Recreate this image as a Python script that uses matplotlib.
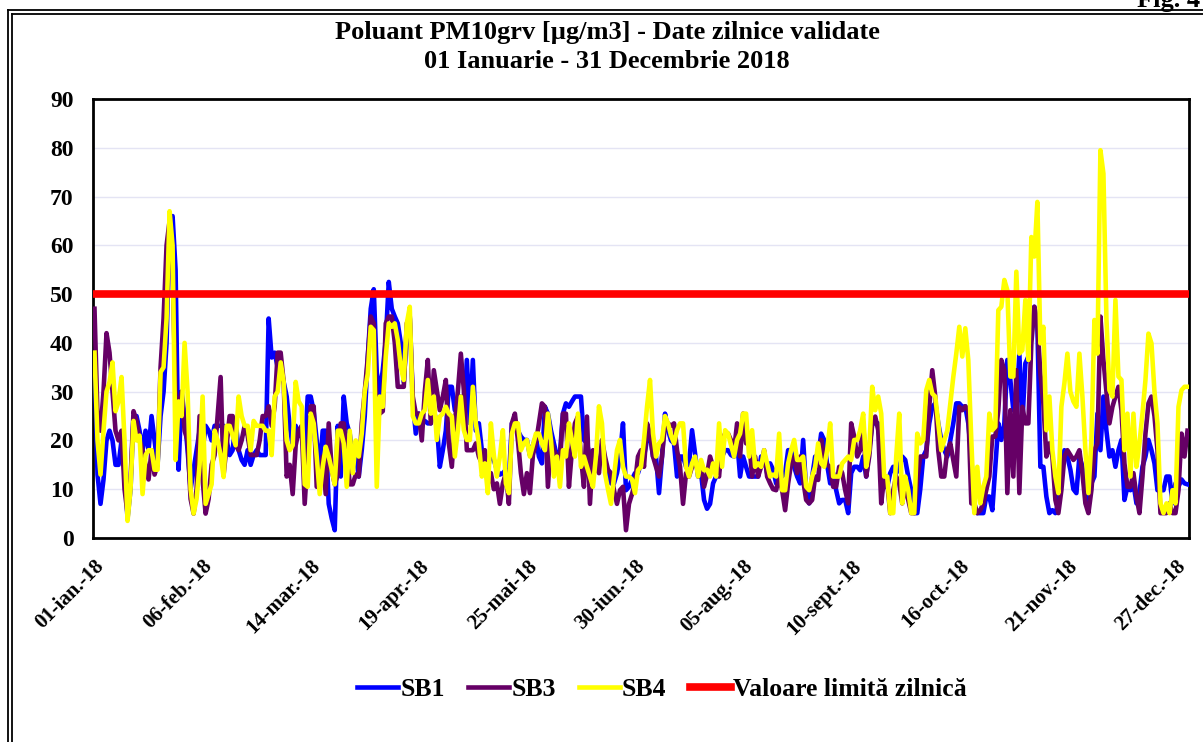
import numpy as np
import matplotlib
matplotlib.use("Agg")
import matplotlib.pyplot as plt
from matplotlib.lines import Line2D

plt.rcParams['font.family'] = ['Liberation Serif', 'DejaVu Serif']
plt.rcParams['font.weight'] = 'bold'

title_lines = ["Poluant PM10grv [µg/m3] - Date zilnice validate",
               "01 Ianuarie - 31 Decembrie 2018"]
tick_labels = ["01-ian.-18", "06-feb.-18", "14-mar.-18", "19-apr.-18", "25-mai-18",
               "30-iun.-18", "05-aug.-18", "10-sept.-18", "16-oct.-18", "21-nov.-18",
               "27-dec.-18"]
tick_days = [0, 36, 72, 108, 144, 180, 216, 252, 288, 324, 360]
limit_value = 50
series_names = ["SB1", "SB3", "SB4"]
limit_name = "Valoare limită zilnică"

sb1 = [38,13,7,12,20,22,20,15,15,20,14,4,10,25,25,22,18,22,18,25,20,15,25,30,40,65,66,55,14,30,25,18,10,14,18,22,
       18,23,22,20,23,23,23,23,20,17,18,24,18,16,15,18,15,17,18,17,17,17,45,37,38,35,35,32,29,23,19,23,21,21,17,29,
       29,26,20,14,22,22,7,4,1.6,23,12.6,29,23.5,21.4,16.7,17,12.6,18,25,37,47,51,34,29.6,34.4,40.6,52.5,47,45.4,44,40,32,42,45,28,21.4,
       25.5,23.5,24,23.5,23.5,26.2,23.5,14.6,18,22,31,31,26.2,27,29,23.5,36.5,23.5,36.5,22,23.5,18,16.7,14,18,16,14,13,13.3,14,12,23.5,23,22,20.8,20.1,
       20.1,17,19,20.8,16.7,15.3,26.9,25.5,22.1,19.4,16.7,17.3,25.5,27.6,26.9,28,29,29,29,20.1,19.4,16.7,16.7,16.7,15,18,16,13,11.2,11.2,13.3,16.7,23.5,9.8,10.5,12,13.3,
       13.3,15.3,16.7,20.1,21.4,16.7,16.7,9.2,16.7,25.5,22.1,20,19.4,12.6,16.7,16.7,14.6,15.3,22.1,17.3,12.6,13.3,7.8,6,7,11.2,12.6,13.9,16.7,18,18,17,16.7,20.1,12.6,16.7,14.6,
       12.6,12.6,12.6,12.6,16.7,16.7,13.3,15.3,14,11.2,13.3,12.6,13.3,18,18,14.6,12.6,11.2,20.1,9.8,7.1,12.6,16.7,16.7,21.4,20.1,15,11.2,13.3,9.8,7.1,7.8,7.8,5.1,13.3,14.6,
       14.6,13.9,16.7,12.6,18,23.5,23.5,23.5,16.7,10.5,10.5,13.3,14.6,13.3,14.6,16.7,16,12.6,9.8,5.1,5.1,10,16.7,18,23.5,26.9,27.6,23.5,20.1,18,16.7,20,23.5,27.6,27.6,26.9,27,
       23.5,16.7,5.7,5.1,5.1,5.1,8.5,8.5,5.7,14.6,23.5,20.1,23.5,36.5,32.4,26.2,26.2,37.8,23.5,35.8,37.2,42.6,47.4,44,14.6,14.6,8.5,5.1,5.7,5.1,7.1,13.3,18,16.7,14,10,
       9.2,16.7,14.6,9.8,7.1,11.2,12.6,25.5,18,29,22,16.7,18,14.6,18,20.1,7.8,10.5,9.8,11.2,7.1,9.2,14.6,16.7,20.1,18,15.3,9.8,9.8,9.8,12.6,12.6,7.1,11.2,10.5,12,11.2,11]

sb3 = [47,25,22,30,42,38,30,22,20,22,10,5,12,26,24,20,18,15,12,18,13,15,35,45,60,65,55,30,25,30,22,20,8,5,10,25,
       12,5,8,15,17,25,33,13,19,25,25,19,18,20,23,21,17,17,17,20,25,25,27,23,27,38,38,32,12.6,15,9,19,22,23,7,17,
       27,27,10.5,11,16.7,9,23.5,14,11,13,23.5,23.5,18,11,11,13,12.6,23.5,30,37,45.4,44,25,25.5,26,44,45.4,45.4,40,31,31,31,44,45.4,29,25.5,
       25.5,20,30,36.5,23.5,34.4,30.3,26.2,29,32.4,19.4,14.6,23.5,30,37.8,30.3,18,18,18,19.4,16.7,15.3,18,11.2,13.3,10,11.2,7,11.2,13.3,7,23.5,25.5,20.1,13.3,9,
       13.3,9.2,17,19.4,23.5,27.6,26.9,10.5,20.1,18,16.7,15.3,25.5,25.5,10.5,18,23.5,24.9,16.7,10.5,24.9,7,18,15.3,13.3,20.1,16.7,14,13.3,9.8,7,9.8,10.5,1.6,7,9,11.2,
       16.7,18,14.6,23.5,21.4,16.7,14.6,12.6,16.7,23.5,23.5,23,23.5,18,14.6,7,13.3,12.6,14.6,15.3,13.9,15.3,10.5,13,16.7,14.6,13.3,12.6,20.1,21.4,21.4,20,18,23.5,16.7,25.5,19.4,
       20.1,12.6,16.7,12.6,14.6,18,12.6,11.2,10,9.8,12.6,9.8,5.7,11.2,15.3,16.7,13.3,16.7,11.9,7.8,7.1,7.8,12.6,11.9,20.1,16.7,15,14.6,10.5,10.5,14.6,13.3,9.8,7.1,23.5,20.8,
       16.7,18,23.5,12.6,16.7,23.5,24.9,22.1,7.1,12.6,11.2,5.1,9.8,12.6,11.2,7.1,11.2,7.8,5.1,5.1,12,16.7,16.7,16.7,26.9,34.4,29,18,12.6,12.6,18,19.4,16,12.6,26.9,26.2,27,
       26.2,7.1,7.1,5.1,5.7,7.1,9.8,12.6,20.8,20.8,26.2,36.5,34.4,9.2,26.2,12.6,34.4,9.2,26.9,23.5,23.5,39.9,47.4,44,33.7,27.6,16.7,19.4,16.7,7.8,5.1,9.8,16.7,18,17,16,
       16.7,18,13.3,7.1,5.1,9.8,18,19.4,45.4,36.5,30,23.5,26.9,29,31,26.2,15.3,10.5,10.5,13.3,8.5,5.1,12.6,21.4,27.6,29,25,18,5.1,5.1,5.1,7.1,5.1,5.1,9.8,21.4,16.7,22]

sb4 = [38,20,13,22,30,32,36,26,28,33,20,3.5,10,24,20,21,9,17,18,18,14,14,34,35,45,67,60,16,28,25,40,30,10,5,8,15,
       29,7,9,11,22,20,17,12.5,23,23,21,19,29,25,23,23,18,24,23,23,23,22,22,17,29,30,36,32,20,18,19,32,28,27,11,10.5,
       25.5,23.5,16.7,9,14.6,18.7,16.7,14,11,22,22,19.4,10.5,22,13.3,20,16.7,21.4,30,33.7,43.3,42.6,10.5,29,26.9,37.2,44,43.3,44,40.6,35,32.4,44,47.4,25,23.5,
       23.5,25.5,26.2,32.4,25.5,29,20.1,24.9,25.5,26.9,25.5,24.9,16.7,22,29,22.1,20.1,20.1,31,23.5,19.4,12.6,15.3,9.2,23.5,17,12.6,16.7,22.1,11.2,9.2,21.4,23.5,23.5,18,19.4,
       20.1,16.7,19,21.4,21.4,19.4,18,25.5,20.1,12.6,16.7,10.5,18,16.7,23.5,20,16.7,25.5,14.6,16.7,14.6,12.6,10.5,16.7,27,23.5,13.3,10,7,12.6,18,20.1,14.6,12.6,12.6,12,9.2,
       13.9,14.6,20.1,26.9,32.4,21.4,16.7,19.4,20.1,25,23.5,21,19.4,22.1,23.5,23.5,14.6,12.6,15.3,16.7,12.6,16,13.9,14,12.6,15.3,12.6,23.5,14.6,22.1,21.4,19,16.7,20.1,21.4,25.5,25.5,
       16.7,22.1,14.6,15.3,14.6,18,15.3,12.6,13,12.6,21.4,9.8,9.8,15.3,18,20.1,16,16,16.7,10.5,9.8,12.6,14.6,19.4,15.3,14.6,18,23.5,12.6,12.6,12.6,15.3,16,16.7,16,20.1,
       20.1,22.1,25.5,14.6,18,31,26.2,29,25.5,12.6,12.6,5.1,5.1,16.7,25.5,7.1,12.6,9.8,5.1,5.1,21.4,19.4,20.1,30.3,32.4,29.6,29,23.5,18,20.1,22,27.6,33,37.8,43.3,37.2,43,
       36.5,20.1,5.1,14.6,7.1,10.5,12.6,25.5,22.1,22.8,46.7,47.4,52.9,50.8,33.1,33.1,54.6,37.8,38.5,48.8,36.5,61.7,57.7,68.9,39.9,43.3,22.1,29,18,12.6,9.2,26.9,31.7,37.8,30,28,
       26.9,37.8,29,18,9.2,20.1,44.7,37.8,79.5,74.7,45,30.3,29,48.8,33.1,32.4,18,25.5,12.6,25.5,14.6,19.4,25.5,32.4,41.9,39.9,30,23.5,7.1,5.1,7.1,5.1,9.8,7.1,26.9,30.3,31,31]

W, H = 1203, 742
fig = plt.figure(figsize=(W / 100, H / 100), dpi=100)
ax = fig.add_axes([93 / W, 1 - 538 / H, (1189 - 93) / W, (538 - 99) / H])

days = np.arange(len(sb1))
lw = 3.3
ax.plot(days, sb1, color='#0000FF', lw=lw, solid_joinstyle='round', label=series_names[0], zorder=3)
ax.plot(days, sb3, color='#660066', lw=lw, solid_joinstyle='round', label=series_names[1], zorder=4)
ax.plot(days, sb4, color='#FFFF00', lw=lw, solid_joinstyle='round', label=series_names[2], zorder=5)
ax.plot(days, [limit_value] * len(days), color='#FF0000', lw=5.5, label=limit_name, zorder=6)

ax.set_xlim(-0.5, len(days) - 0.5)
ax.set_ylim(0, 90)
ax.set_yticks(np.arange(0, 91, 10))
ax.set_yticklabels([str(v) for v in range(0, 91, 10)], fontsize=17, fontweight='bold')
ax.set_xticks(tick_days)
ax.set_xticklabels(tick_labels, rotation=45, ha='right', va='top', rotation_mode='anchor',
                   fontsize=15, fontweight='bold')
ax.tick_params(axis='both', length=0)
ax.tick_params(axis='y', pad=14)
ax.tick_params(axis='x', pad=13)
ax.grid(axis='y', color='#E4E4F4', lw=1.0, zorder=0)
for s in ax.spines.values():
    s.set_linewidth(2.0)
    s.set_color('black')

fig.text(607 / W, 1 - 32 / H, title_lines[0], ha='center', va='center', fontsize=19, fontweight='bold')
fig.text(607 / W, 1 - 62 / H, title_lines[1], ha='center', va='center', fontsize=19, fontweight='bold')
fig.text(1200 / W, 1 - 7 / H, "Fig. 4", ha='right', va='baseline', fontsize=19, fontweight='bold')

fig.legend(loc='center', bbox_to_anchor=(662 / W, 1 - 689 / H), ncol=4, frameon=False,
           prop={'size': 18.5, 'weight': 'bold'}, handlelength=1.6, columnspacing=0.9, handletextpad=0.08)

# outer double frame
for xx in (8, 12):
    fig.add_artist(Line2D([xx / W, xx / W], [0, 1 - (10 if xx == 8 else 14) / H], color='black', lw=1.3))
for yy, x0 in ((10, 8), (14, 12)):
    fig.add_artist(Line2D([x0 / W, 1], [1 - yy / H, 1 - yy / H], color='black', lw=1.3))

fig.savefig("out.png", dpi=100)
